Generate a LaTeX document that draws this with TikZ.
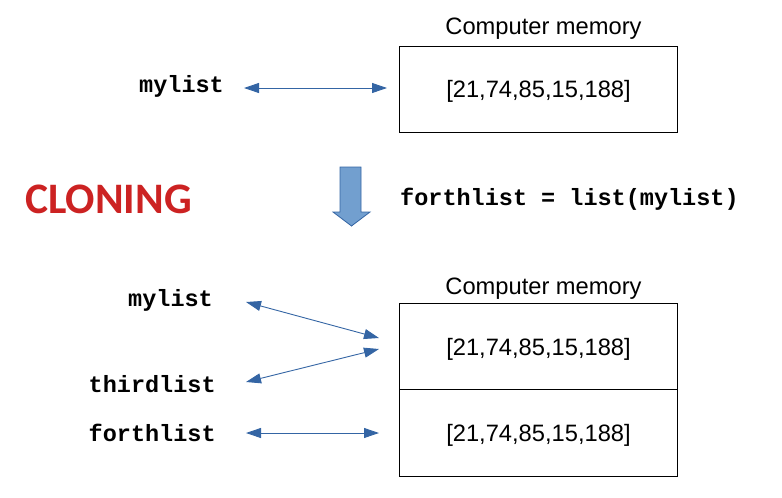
\documentclass[tikz,border=0pt]{standalone}
\usepackage{fontspec}
\setmainfont{Liberation Sans}
\newfontfamily\monob{Liberation Mono}
\newfontfamily\carl{Carlito}
\usetikzlibrary{arrows.meta}
\definecolor{arrblue}{RGB}{52,101,164}
\definecolor{fillblue}{RGB}{114,159,207}
\definecolor{clonered}{RGB}{204,34,34}
\tikzset{
  memtext/.style={anchor=base,inner sep=0pt,font=\fontsize{23.7}{28}\selectfont},
  varlabel/.style={anchor=base west,inner sep=0pt,font=\fontsize{23.5}{28}\monob\bfseries},
  membox/.style={draw=black,line width=0.9pt},
  ptr/.style={arrblue,line width=0.9pt,{Triangle[length=15pt,width=10pt]}-{Triangle[length=15pt,width=10pt]}},
}
\begin{document}
\begin{tikzpicture}[x=1pt,y=-1pt]
\useasboundingbox (0,0) rectangle (782,498);
% top
\node[memtext] (cm1) at (543.5,34.5) {Computer memory};
\draw[membox] (399.5,46.5) rectangle (677.5,132);
\node[memtext] (l1) at (538.5,97.5) {[21,74,85,15,188]};
\node[varlabel] (v1) at (139,92) {mylist};
\coordinate (a1s) at (244,88);
\coordinate (a1e) at (387,88);
\draw[ptr] (a1s) -- (a1e);
% middle
\node[anchor=base west,inner sep=0pt,font=\fontsize{43.5}{50}\carl\bfseries,text=clonered] (cl) at (25,213) {CLONING};
\draw[arrblue,fill=fillblue,line width=0.8pt] (340,167) -- (361,167) -- (361,212) -- (370,212) -- (351.5,226) -- (333,212) -- (340,212) -- cycle;
\node[varlabel] (cmd) at (400,205) {forthlist = list(mylist)};
% bottom
\node[memtext] (cm2) at (543.5,294.3) {Computer memory};
\draw[membox] (399.5,303.5) rectangle (677.5,476);
\draw[membox] (399.5,389.3) -- (677.5,389.3);
\node[memtext] (l2) at (538.5,355) {[21,74,85,15,188]};
\node[memtext] (l3) at (538.5,441.7) {[21,74,85,15,188]};
\node[varlabel] (v2) at (128,306) {mylist};
\node[varlabel] (v3) at (88.5,392.7) {thirdlist};
\node[varlabel] (v4) at (88.5,441.7) {forthlist};
\coordinate (b1s) at (246,302);
\coordinate (b1e) at (379,338);
\coordinate (b2s) at (246,382);
\coordinate (b2e) at (379,349);
\coordinate (b3s) at (246,433);
\coordinate (b3e) at (379,433);
\draw[ptr] (b1s) -- (b1e);
\draw[ptr] (b2s) -- (b2e);
\draw[ptr] (b3s) -- (b3e);
\end{tikzpicture}
\end{document}
